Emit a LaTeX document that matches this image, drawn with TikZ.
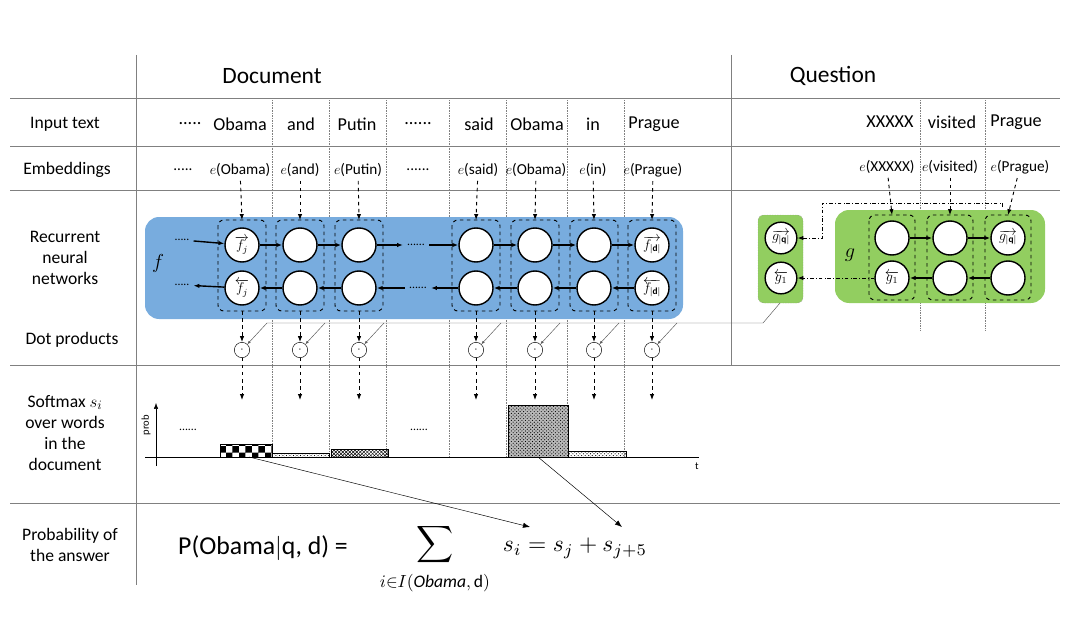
\documentclass[tikz,border=0pt]{standalone}
\usepackage{fontspec}
\setmainfont{Carlito}
\usetikzlibrary{positioning}
\usetikzlibrary{arrows.meta}
\usetikzlibrary{patterns}
\definecolor{rnnblue}{RGB}{120,172,222}
\definecolor{rnngreen}{RGB}{146,206,96}

\begin{document}
\begin{tikzpicture}[x=0.03cm,y=-0.03cm]
		\tikzset{cell/.style = {shape=circle,draw,line width=1.2pt,fill=white,minimum size=1.02cm,inner sep=0pt,font=\large}}
		\tikzset{dotp/.style = {shape=circle,draw,fill=white,minimum size=0.46cm,inner sep=0pt}}
		\tikzset{colbox/.style = {draw,dashed,rounded corners=5pt,thick}}
		\tikzset{rec/.style = {-{Latex[length=5pt]},line width=1.2pt}}
		\tikzset{emb/.style = {-{Latex[length=5pt]},dashed,thick}}
		\tikzset{sep/.style = {densely dotted,gray}}
		\tikzset{rowlabel/.style = {align=center,font=\fontsize{15}{18}\selectfont}}
		\tikzset{word/.style = {font=\fontsize{15.5}{18}\selectfont}}
		\tikzset{embword/.style = {font=\fontsize{13}{15}\selectfont}}
		\tikzset{qlink/.style = {-{Latex[length=5pt]},dash dot,thick}}
		\useasboundingbox (0,0) rectangle (1091,619);
		% table
		\draw[gray] (136,55) -- (136,585);
		\draw[gray] (731,55) -- (731,365);
		\foreach \y in {98,146,190,365,503}
		\draw[gray] (10,\y) -- (1060,\y);
		\node[font=\fontsize{20}{24}\selectfont] (hdoc) at (272,76) {Document};
		\node[font=\fontsize{20}{24}\selectfont] (hq) at (833,76) {Question};
		\node[rowlabel] (l1) at (65,124) {Input text};
		\node[rowlabel] (l2) at (67,170) {Embeddings};
		\node[rowlabel] (l3) at (65,258) {Recurrent\\neural\\networks};
		\node[rowlabel] (l4) at (72,340) {Dot products};
		\node[rowlabel] (l5) at (65,433) {Softmax $s_i$\\over words\\in the\\document};
		\node[rowlabel] (l6) at (70,545) {Probability of\\the answer};
		% column separators
		\foreach \x in {272,329,386,449,506,567,624}
		\draw[sep] (\x,100) -- (\x,457);
		\draw[sep] (920,100) -- (920,330);
		\draw[sep] (985,100) -- (985,330);
		% words
		\node[word] (w0) at (190,124) {.....};
		\node[embword] (e0) at (183,170) {.....};
		\node[word] (w4) at (418,124) {......};
		\foreach \i/\x/\w in {1/240/Obama,2/301/and,3/357/Putin,5/479/said,6/537/Obama,7/593/in,8/654/Prague}
		\node[word] (w\i) at (\x,124) {\w};
		\foreach \i/\x/\w in {1/890/XXXXX,2/952/visited,3/1016/Prague}
		\node[word] (qw\i) at (\x,122) {\w};
		\node[embword] (e4) at (418,170) {......};
		\foreach \i/\x/\w in {1/240/Obama,2/300/and,3/358/Putin,5/478/said,6/536/Obama,7/593/in,8/653/Prague}
		\node[embword] (e\i) at (\x,170) {$e$(\w)};
		\foreach \i/\x/\w in {1/887/XXXXX,2/950/visited,3/1020/Prague}
		\node[embword] (qe\i) at (\x,167) {$e$(\w)};
		% document rnn
		\fill[rnnblue,rounded corners=12pt] (145,217) rectangle (683,319);
		\node[font=\LARGE] (fl) at (158,263) {$f$};
		\foreach \i/\x/\e/\ut/\vt in {1/242/1/$\overrightarrow{f_j}$/$\overleftarrow{f_j}$,2/300/2//,3/359/3//,4/476/5//,5/535/6//,6/594/7//,7/652/8/$\overrightarrow{f_{|\mathbf{d}|}}$/$\overleftarrow{f_{|\mathbf{d}|}}$}{
			\draw[colbox] (\x-24,220) rectangle (\x+24,311);
			\draw[emb] (e\e) -- (\x,220);
			\node[cell] (u\i) at (\x,245) {\ut};
			\node[cell] (v\i) at (\x,288) {\vt};
			\coordinate (b\i) at (\x,311);
			\node[dotp] (d\i) at (\x,350) {$\cdot$};
			\draw[emb] (b\i) -- (d\i);
			\coordinate (s\i) at (\x,400);
			\draw[emb] (d\i) -- (s\i);
			\coordinate (t\i) at (\x+25,323);
			\draw[-{Latex[length=3pt]},thin,gray!70!black] (t\i) -- (d\i);
		}
		\foreach \a/\b in {1/2,2/3,4/5,5/6,6/7}{
			\draw[rec] (u\a) -- (u\b);
			\draw[rec] (v\b) -- (v\a);
		}
		\node (fdl) at (182,240) {.....};
		\node (bdl) at (182,285) {.....};
		\node (fdm) at (416,245) {......};
		\node (bdm) at (418,288) {......};
		\draw[rec] (fdl) -- (u1);
		\draw[rec] (v1) -- (bdl);
		\draw[rec] (u3) -- (fdm);
		\draw[rec] (fdm) -- (u4);
		\draw[rec] (v4) -- (bdm);
		\draw[rec] (bdm) -- (v3);
		% question rnn
		\fill[rnngreen,rounded corners=12pt] (835,210) rectangle (1045,303);
		\fill[rnngreen,rounded corners=5pt,draw=gray,densely dotted] (758,215) rectangle (803,303);
		\node[font=\LARGE] (gl) at (850,255) {$g$};
		\foreach \i/\x/\ut/\vt in {1/892//$\overleftarrow{g_1}$,2/950//,3/1008/$\overrightarrow{g_{|\mathbf{q}|}}$/}{
			\draw[colbox] (\x-23,215) rectangle (\x+23,300);
			\draw[emb] (qe\i) -- (\x,215);
			\node[cell] (gu\i) at (\x,238) {\ut};
			\node[cell] (gv\i) at (\x,278) {\vt};
		}
		\draw[rec] (gu1) -- (gu2);
		\draw[rec] (gu2) -- (gu3);
		\draw[rec] (gv3) -- (gv2);
		\draw[rec] (gv2) -- (gv1);
		\node[cell,minimum size=0.95cm] (hq1) at (781,238) {$\overrightarrow{g_{|\mathbf{q}|}}$};
		\node[cell,minimum size=0.95cm] (hq2) at (781,278) {$\overleftarrow{g_1}$};
		\coordinate (qtop) at (1002,207);
		\draw[qlink] (qtop) -- (1002,203) -- (822,203) -- (822,238) -- (hq1);
		\draw[qlink] (gv1) -- (hq2);
		\coordinate (qb) at (780,303);
		\draw[thin,gray!70!black] (qb) -- (763,323) -- (t1);
		% softmax
		\coordinate (yo) at (156,466);
		\coordinate (yt) at (156,403);
		\draw[-{Latex[length=5pt]}] (yo) -- (yt);
		\node[rotate=90,font=\small] (prob) at (146,425) {prob};
		\coordinate (xo) at (145,457);
		\coordinate (xt) at (699,457);
		\draw (xo) -- (xt);
		\node[font=\small] (tl) at (697,466) {t};
		\node (sd1) at (188,430) {......};
		\node (sd2) at (419,430) {......};
		\draw[pattern=checkerboard] (220,444) rectangle (272,457);
		\draw[pattern=crosshatch dots] (272,453) rectangle (329,457);
		\draw[pattern=crosshatch] (331,449) rectangle (388,457);
		\fill[gray!55] (508,405) rectangle (568,457);
		\draw[pattern=crosshatch dots] (508,405) rectangle (568,457);
		\draw[pattern=crosshatch dots] (568,451) rectangle (626,457);
		% probability
		\node[font=\fontsize{22}{26}\selectfont] (pl) at (263,548) {P(Obama$|$q, d) =};
		\node[scale=2.2] (sum) at (435,545) {$\displaystyle\sum$};
		\node[scale=1.5] (sub) at (435,583) {$i{\in}I(\mathit{Obama},\mathrm{d})$};
		\node[scale=2] (pr) at (575,548) {$s_i = s_j + s_{j+5}$};
		\coordinate (pa) at (249,457);
		\coordinate (pb) at (538,457);
		\coordinate (sj) at (530,527);
		\coordinate (sj5) at (622,527);
		\draw[-{Latex[length=6pt]}] (pa) -- (sj);
		\draw[-{Latex[length=6pt]}] (pb) -- (sj5);
\end{tikzpicture}
\end{document}
